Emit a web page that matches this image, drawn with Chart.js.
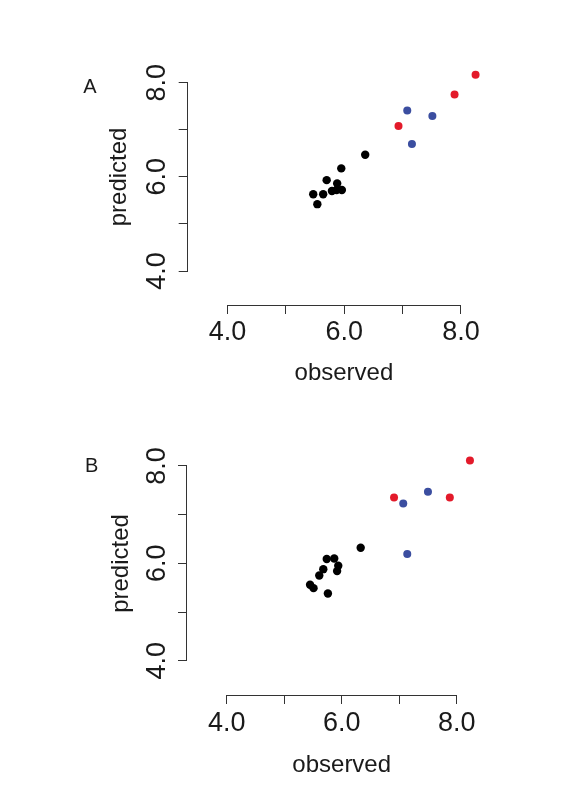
<!DOCTYPE html>
<html><head><meta charset="utf-8">
<script src="https://cdn.jsdelivr.net/npm/chart.js@4"></script>
<style>
html,body{margin:0;padding:0;background:#fff;}
canvas{position:absolute;left:0;}
#cA{top:0;} #cB{top:403px;}
</style></head><body>
<canvas id="cA" width="580" height="403"></canvas>
<canvas id="cB" width="580" height="403"></canvas>
<script>
// ---- data ----
const tickValues = [4, 5, 6, 7, 8];
const tickLabels = ['4.0', '', '6.0', '', '8.0'];
const panelLabels = ['A', 'B'];
const xTitle = 'observed';
const yTitle = 'predicted';

// Panel A
const aBlackObs  = [6.36, 5.95, 5.70, 5.88, 5.96, 5.87, 5.79, 5.64, 5.47, 5.54];
const aBlackPred = [6.47, 6.18, 5.93, 5.86, 5.72, 5.72, 5.70, 5.63, 5.63, 5.42];
const aBlueObs   = [7.08, 7.51, 7.16];
const aBluePred  = [7.41, 7.29, 6.70];
const aRedObs    = [8.25, 7.89, 6.93];
const aRedPred   = [8.17, 7.75, 7.08];

// Panel B
const bBlackObs  = [6.33, 5.74, 5.87, 5.94, 5.92, 5.68, 5.61, 5.45, 5.51, 5.76];
const bBlackPred = [6.32, 6.09, 6.10, 5.95, 5.84, 5.88, 5.75, 5.56, 5.49, 5.38];
const bBlueObs   = [7.50, 7.07, 7.14];
const bBluePred  = [7.47, 7.23, 6.19];
const bRedObs    = [8.23, 6.91, 7.88];
const bRedPred   = [8.11, 7.35, 7.35];

// ---- drawing ----
const FONT = '"Liberation Sans", Arial, sans-serif';
const TEXT = '#1a1a1a';
const LINE = '#333';
const COLORS = { black: '#000000', blue: '#3b4ea0', red: '#e31a2a' };

function pts(xs, ys) { return xs.map((v, i) => ({ x: v, y: ys[i] })); }
function ds(xs, ys, color, r) {
  return { data: pts(xs, ys), backgroundColor: color, borderColor: color, borderWidth: 0, pointRadius: r, pointHoverRadius: r };
}

const rAxes = {
  id: 'rAxes',
  afterDraw(chart, args, o) {
    const { ctx, chartArea, scales: { x, y } } = chart;
    ctx.save();
    ctx.strokeStyle = LINE;
    ctx.lineWidth = 1;
    ctx.beginPath();
    const yb = Math.round(chartArea.bottom) + 0.5;
    ctx.moveTo(Math.round(x.getPixelForValue(tickValues[0]) - 0.5) + 0.5, yb);
    ctx.lineTo(Math.round(x.getPixelForValue(tickValues[tickValues.length - 1]) - 0.5) + 0.5, yb);
    const xl = Math.round(chartArea.left) - 0.5;
    ctx.moveTo(xl, Math.round(y.getPixelForValue(tickValues[0]) - 0.5) + 0.5);
    ctx.lineTo(xl, Math.round(y.getPixelForValue(tickValues[tickValues.length - 1]) - 0.5) + 0.5);
    ctx.stroke();
    ctx.fillStyle = TEXT;
    ctx.font = '20px ' + FONT;
    ctx.textBaseline = 'alphabetic';
    ctx.textAlign = 'left';
    ctx.fillText(o.letter, o.lx, o.ly);
    ctx.restore();
  }
};

function buildChart(id, letter, datasets, g) {
  return new Chart(document.getElementById(id), {
    type: 'scatter',
    data: { datasets },
    options: {
      responsive: false,
      animation: false,
      events: [],
      layout: { padding: { left: 100, top: g.top, right: g.right, bottom: g.bottom } },
      plugins: {
        legend: { display: false },
        tooltip: { enabled: false },
        rAxes: { letter, lx: g.lx, ly: g.ly }
      },
      scales: {
        x: {
          type: 'linear', position: 'bottom', min: g.xmin, max: g.xmax,
          afterBuildTicks: s => { s.ticks = tickValues.map(v => ({ value: v })); },
          afterFit: s => { s.height = g.xh; },
          ticks: {
            autoSkip: false, maxRotation: 0, minRotation: 0, padding: g.xtp, color: TEXT,
            font: { family: FONT, size: 27 },
            callback: (v, i) => tickLabels[i]
          },
          grid: { drawOnChartArea: false, drawTicks: true, tickLength: 9, color: LINE, lineWidth: 1 },
          border: { display: false },
          title: { display: true, text: xTitle, color: TEXT, font: { family: FONT, size: 24 }, padding: { top: 0, bottom: g.xtb } }
        },
        y: {
          type: 'linear', position: 'left', min: g.ymin, max: g.ymax,
          afterBuildTicks: s => { s.ticks = tickValues.map(v => ({ value: v })); },
          afterFit: s => { s.width = g.axisX - 100; },
          ticks: {
            autoSkip: false, minRotation: 90, maxRotation: 90, crossAlign: 'center', padding: g.ytp, color: TEXT,
            font: { family: FONT, size: 27 },
            callback: (v, i) => tickLabels[i]
          },
          grid: { drawOnChartArea: false, drawTicks: true, tickLength: 9, color: LINE, lineWidth: 1 },
          border: { display: false },
          title: { display: true, text: yTitle, color: TEXT, font: { family: FONT, size: 24 }, padding: { top: g.ytt, bottom: 0 } }
        }
      }
    },
    plugins: [rAxes]
  });
}

buildChart('cA', panelLabels[0], [
  ds(aBlackObs, aBlackPred, COLORS.black, 4.2),
  ds(aBlueObs, aBluePred, COLORS.blue, 4),
  ds(aRedObs, aRedPred, COLORS.red, 4)
], { top: 48.8, right: 79.9, bottom: 8, xh: 90, axisX: 187.7,
     xmin: 3.32, xmax: 8.67, ymin: 3.278, ymax: 8.72,
     xtp: 2.6, xtb: 7.2, ytp: 2.1, ytt: 5.3, lx: 83.3, ly: 92.7 });

buildChart('cB', panelLabels[1], [
  ds(bBlackObs, bBlackPred, COLORS.black, 4.2),
  ds(bBlueObs, bBluePred, COLORS.blue, 4),
  ds(bRedObs, bRedPred, COLORS.red, 4)
], { top: 28.9, right: 83.6, bottom: 11, xh: 100, axisX: 187,
     xmin: 3.31, xmax: 8.69, ymin: 3.295, ymax: 8.7,
     xtp: 3.8, xtb: 14.9, ytp: 2, ytt: 6.6, lx: 85, ly: 68.7 });
</script>
</body></html>
